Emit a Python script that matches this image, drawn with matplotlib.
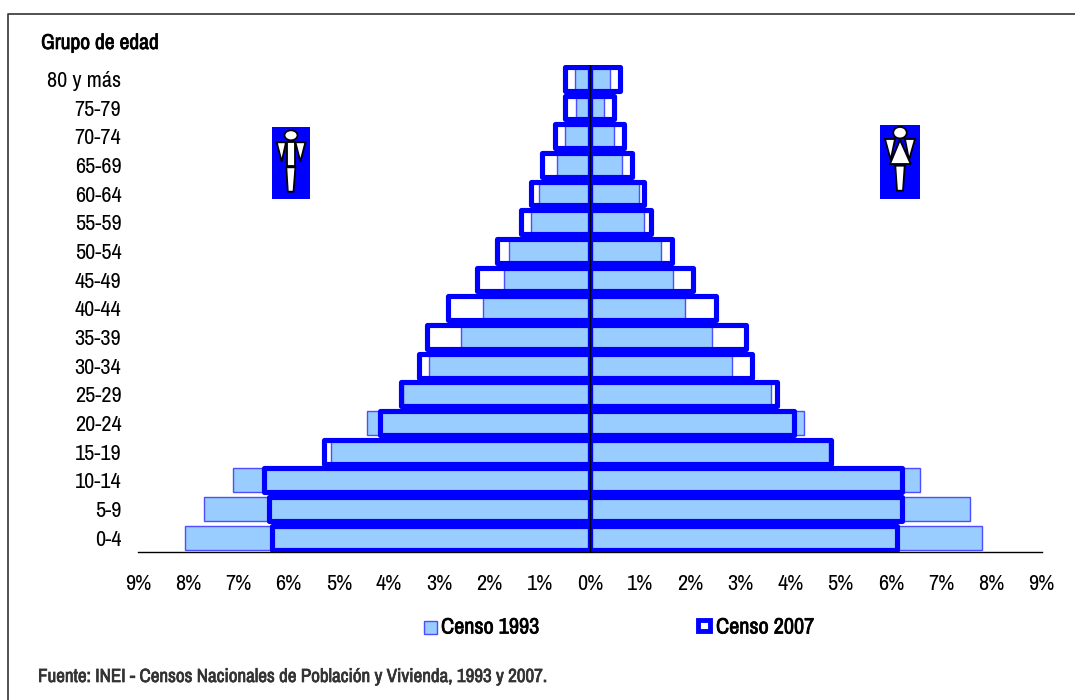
import matplotlib
matplotlib.use('Agg')
import matplotlib.pyplot as plt
import matplotlib.patheffects as pe
from matplotlib.patches import Rectangle, Polygon, Ellipse

plt.rcParams['font.family'] = ['Archivo Narrow', 'Liberation Sans', 'DejaVu Sans']

# grupos de edad, de abajo hacia arriba
grupos = ['0-4', '5-9', '10-14', '15-19', '20-24', '25-29', '30-34', '35-39', '40-44',
          '45-49', '50-54', '55-59', '60-64', '65-69', '70-74', '75-79', '80 y más']
hombres_1993 = [8.07, 7.68, 7.10, 5.15, 4.43, 3.72, 3.20, 2.56, 2.12,
                1.70, 1.60, 1.17, 1.01, 0.66, 0.49, 0.28, 0.30]
mujeres_1993 = [7.82, 7.58, 6.58, 4.77, 4.26, 3.61, 2.84, 2.43, 1.90,
                1.65, 1.41, 1.09, 0.98, 0.65, 0.49, 0.29, 0.40]
hombres_2007 = [6.34, 6.40, 6.49, 5.30, 4.18, 3.77, 3.41, 3.24, 2.82,
                2.25, 1.84, 1.37, 1.17, 0.95, 0.69, 0.49, 0.49]
mujeres_2007 = [6.12, 6.22, 6.22, 4.81, 4.06, 3.73, 3.23, 3.12, 2.52,
                2.05, 1.64, 1.22, 1.08, 0.85, 0.68, 0.49, 0.60]
ticks_x = [-9, -8, -7, -6, -5, -4, -3, -2, -1, 0, 1, 2, 3, 4, 5, 6, 7, 8, 9]

AZUL = '#0000ff'
CELESTE = '#99ccff'
W, H = 1075, 700

fig = plt.figure(figsize=(W / 100, H / 100), dpi=100)

# capa en pixeles para marco, iconos y leyenda
bg = fig.add_axes([0, 0, 1, 1])
bg.set_xlim(0, W)
bg.set_ylim(H, 0)
bg.axis('off')
bg.plot([8, 8, 1075], [700, 13.5, 13.5], color='#333333', lw=1.2)

ax = fig.add_axes([138 / W, 1 - 552 / H, (1041.5 - 138) / W, (552 - 64.5) / H])
ax.patch.set_alpha(0)
y = list(range(len(grupos)))

ax.barh(y, [-v for v in hombres_1993], height=0.84, color=CELESTE, edgecolor='#4d4dff', lw=1, zorder=2)
ax.barh(y, mujeres_1993, height=0.84, color=CELESTE, edgecolor='#4d4dff', lw=1, zorder=2)
ax.barh(y, [-v for v in hombres_2007], height=0.83, fill=False, edgecolor=AZUL, lw=3.7,
        joinstyle='round', zorder=3)
ax.barh(y, mujeres_2007, height=0.83, fill=False, edgecolor=AZUL, lw=3.7,
        joinstyle='round', zorder=3)
ax.axvline(0, color='black', lw=1, zorder=4)

ax.set_xlim(-9, 9)
ax.set_ylim(-0.5, 16.5)
ax.set_xticks(ticks_x)
ax.set_xticklabels([f'{abs(t)}%' for t in ticks_x], fontsize=16)
ax.set_yticks(y)
ax.set_yticklabels(grupos, fontsize=16)
ax.tick_params(length=0)
ax.tick_params(axis='x', pad=16)
ax.tick_params(axis='y', pad=12)
for lado in ['top', 'left', 'right']:
    ax.spines[lado].set_visible(False)
ax.spines['bottom'].set_linewidth(1)
ax.spines['bottom'].set_color('black')

# la fuente variable no trae negrita, se engorda con un trazo fino
negrita = [pe.withStroke(linewidth=0.5, foreground='black')]
bg.text(41, 43, 'Grupo de edad', fontsize=15.5, va='center', ha='left', path_effects=negrita)
bg.text(38, 677, 'Fuente: INEI - Censos Nacionales de Población y Vivienda, 1993 y 2007.',
        fontsize=13.7, color='#333333', va='center', ha='left',
        path_effects=[pe.withStroke(linewidth=0.5, foreground='#333333')])

# leyenda
bg.add_patch(Rectangle((423.5, 621), 13, 13, fc=CELESTE, ec='#4d4dff', lw=1))
bg.text(441, 627.5, 'Censo 1993', fontsize=16, va='center', path_effects=negrita)
bg.add_patch(Rectangle((698, 619.5), 11.5, 11, fc='white', ec=AZUL, lw=3.5))
bg.text(716, 627.5, 'Censo 2007', fontsize=16, va='center', path_effects=negrita)

est = dict(fc='white', ec='black', lw=1.3)

# icono hombre
bg.add_patch(Rectangle((272, 127), 38, 72, fc=AZUL, ec='none'))
bg.add_patch(Ellipse((291, 135.3), 13, 10, **est))
bg.add_patch(Rectangle((287, 141.7), 7.7, 24.3, **est))
bg.add_patch(Polygon([(276.7, 142.3), (286, 142.3), (281.7, 161.7)], **est))
bg.add_patch(Polygon([(295.4, 142.3), (305.4, 142.3), (300.4, 161.7)], **est))
bg.add_patch(Polygon([(286.3, 167.3), (295.4, 167.3), (293.5, 191.7), (287.8, 191.7)], **est))

# icono mujer
bg.add_patch(Rectangle((880, 125), 40, 74, fc=AZUL, ec='none'))
bg.add_patch(Polygon([(885, 139), (895, 139), (890.7, 160)], **est))
bg.add_patch(Polygon([(905, 139), (915, 139), (909, 160)], **est))
bg.add_patch(Polygon([(900, 140), (910.7, 164), (890, 164)], **est))
bg.add_patch(Ellipse((900, 132.7), 13.5, 11.5, **est))
bg.add_patch(Polygon([(895.3, 165.7), (904.7, 165.7), (903, 190.7), (897, 190.7)], **est))

fig.savefig('out.png', dpi=100)
